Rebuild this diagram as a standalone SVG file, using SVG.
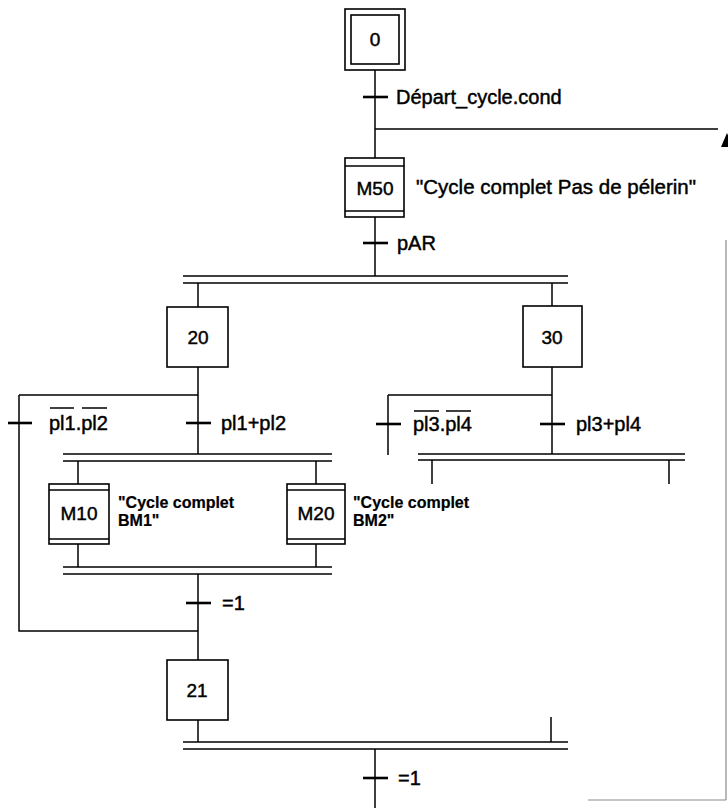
<svg xmlns="http://www.w3.org/2000/svg" width="728" height="808" viewBox="0 0 728 808">
<style>
 .ln{stroke:#000;stroke-width:1.5;fill:none}
 .tk{stroke:#000;stroke-width:2.6;fill:none}
 .bx{fill:#fff;stroke:#000;stroke-width:1.6}
 .bar{stroke:#000;stroke-width:1.7;fill:none}
 .faint{stroke:#8a8a8a;stroke-width:1.2;fill:none}
 text{font-family:"Liberation Sans",Arial,sans-serif;fill:#000;stroke:#000;stroke-width:0.45}
 .num{font-size:19px;text-anchor:middle}
 .mac{font-size:19px;text-anchor:middle}
 .lbl{font-size:20px}
 .cmt{font-size:20.5px}
 .cmt2{font-size:16px;font-weight:bold;stroke-width:0.2}
</style>
<rect width="728" height="808" fill="#fff"/>
<g id="connectors">
 <path class="ln" d="M375 70V158M375 129H718M375 217V276"/>
 <path class="bar" d="M183 276H568M183 283H568"/>
 <path class="ln" d="M198 283V307M552 283V306M198 367V454M19 395H198M19 395V631H198"/>
 <path class="ln" d="M552 367V454M388 395H552M388 395V455"/>
 <path class="bar" d="M418 454H685M418 460H685"/>
 <path class="ln" d="M432 460V484M669 460V484"/>
 <path class="bar" d="M63 454H332M63 461H332"/>
 <path class="ln" d="M78 461V484M316 461V484M78 544V567M316 544V567"/>
 <path class="bar" d="M63 567H332M63 574H332"/>
 <path class="ln" d="M198 574V660M198 720V742"/>
 <path class="bar" d="M183 742H568M183 749H568"/>
 <path class="ln" d="M551 717V742M375 749V808"/>
 <path class="faint" d="M726 240V800M588 800H726"/>
 <polygon points="727,133 721,147 733,147" fill="#000"/>
</g>
<g id="step0">
 <rect class="bx" x="345" y="9" width="60" height="61"/>
 <rect class="bx" x="351" y="15" width="48" height="49"/>
 <text class="num" x="375" y="46">0</text>
</g>
<g id="t-depart">
 <path class="tk" d="M363 97H388"/>
 <text class="lbl" x="396" y="104">Départ_cycle.cond</text>
</g>
<g id="stepM50">
 <rect class="bx" x="345" y="158" width="59" height="59"/>
 <path class="ln" d="M345 166H404M345 211H404"/>
 <text class="mac" x="375" y="195">M50</text>
 <text class="cmt" x="416" y="194">"Cycle complet Pas de pélerin"</text>
</g>
<g id="t-pAR">
 <path class="tk" d="M363 243H388"/>
 <text class="lbl" x="397" y="250">pAR</text>
</g>
<g id="step20">
 <rect class="bx" x="167" y="307" width="61" height="60"/>
 <text class="num" x="198" y="344">20</text>
</g>
<g id="step30">
 <rect class="bx" x="523" y="306" width="59" height="61"/>
 <text class="num" x="552" y="344">30</text>
</g>
<g id="t-pl1pl2-not">
 <path class="tk" d="M8 423H32"/>
 <text class="lbl" x="49" y="430">pl1.pl2</text>
 <path class="ln" d="M50 408H74M82 408H107"/>
</g>
<g id="t-pl1pl2">
 <path class="tk" d="M186 423H211"/>
 <text class="lbl" x="221" y="430">pl1+pl2</text>
</g>
<g id="t-pl3pl4-not">
 <path class="tk" d="M376 424H401"/>
 <text class="lbl" x="413" y="431">pl3.pl4</text>
 <path class="ln" d="M414 411H439M446 411H471"/>
</g>
<g id="t-pl3pl4">
 <path class="tk" d="M540 424H565"/>
 <text class="lbl" x="576" y="431">pl3+pl4</text>
</g>
<g id="stepM10">
 <rect class="bx" x="49" y="484" width="60" height="60"/>
 <path class="ln" d="M49 490H109M49 539H109"/>
 <text class="mac" x="79" y="520">M10</text>
 <text class="cmt2" x="118" y="508">"Cycle complet</text>
 <text class="cmt2" x="118" y="526">BM1"</text>
</g>
<g id="stepM20">
 <rect class="bx" x="287" y="484" width="58" height="60"/>
 <path class="ln" d="M287 490H345M287 539H345"/>
 <text class="mac" x="316" y="520">M20</text>
 <text class="cmt2" x="353" y="508">"Cycle complet</text>
 <text class="cmt2" x="353" y="526">BM2"</text>
</g>
<g id="t-eq1-a">
 <path class="tk" d="M186 603H211"/>
 <text class="lbl" x="222" y="610">=1</text>
</g>
<g id="step21">
 <rect class="bx" x="167" y="660" width="61" height="60"/>
 <text class="num" x="197" y="697">21</text>
</g>
<g id="t-eq1-b">
 <path class="tk" d="M363 778H388"/>
 <text class="lbl" x="398" y="785">=1</text>
</g>
</svg>
